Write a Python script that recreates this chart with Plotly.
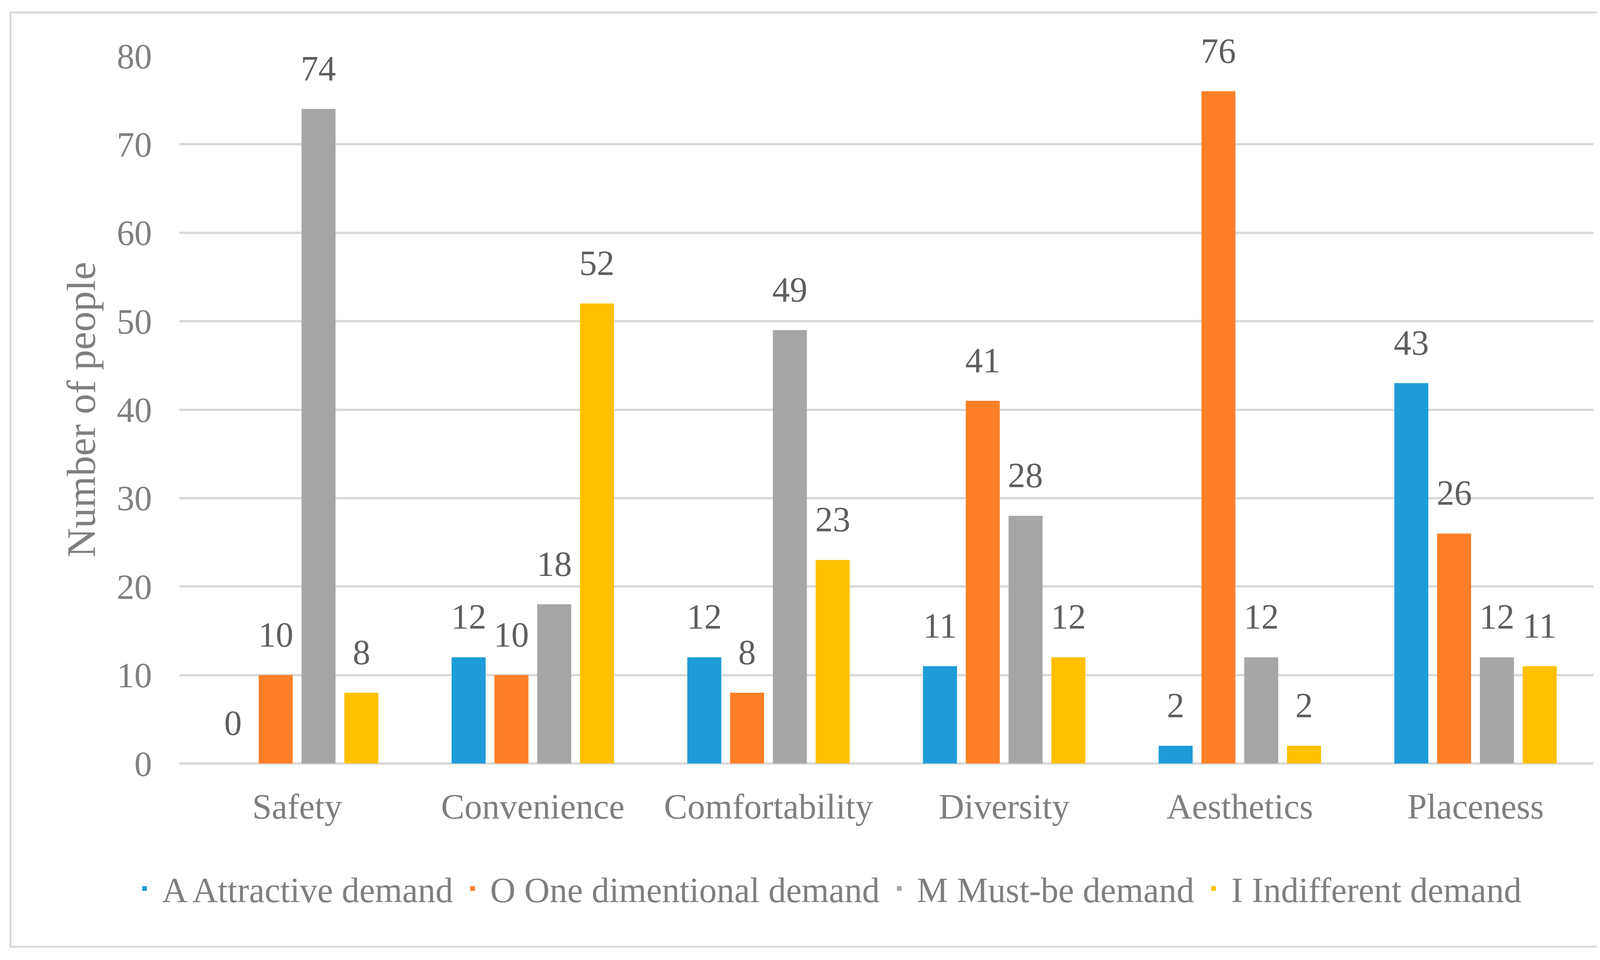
import plotly.graph_objects as go

categories = ["Safety", "Convenience", "Comfortability", "Diversity", "Aesthetics", "Placeness"]
series_names = ["A Attractive demand", "O One dimentional demand", "M Must-be demand", "I Indifferent demand"]
attractive = [0, 12, 12, 11, 2, 43]
one_dimensional = [10, 10, 8, 41, 76, 26]
must_be = [74, 18, 49, 28, 12, 12]
indifferent = [8, 52, 23, 12, 2, 11]
y_ticks = [0, 10, 20, 30, 40, 50, 60, 70, 80]

series_values = [attractive, one_dimensional, must_be, indifferent]
colors = ["#1E9CD8", "#FE7F27", "#A6A6A6", "#FFC000"]

W, H = 4209, 2457
L, R, T, B = 451, 138, 135, 511
plot_w = W - L - R
plot_h = H - T - B
bargap = 0.2736
bargroupgap = 0.2055
FONT = "Liberation Serif, Times New Roman, serif"

fig = go.Figure()
for name, vals, col in zip(series_names, series_values, colors):
    fig.add_trace(go.Bar(x=categories, y=vals, name=name,
                         marker=dict(color=col, line=dict(color=col, width=0))))

# data labels above each bar, aligned to the bar's slot in the group
cat_w = plot_w / len(categories)
pitch = cat_w * (1 - bargap) / len(series_values)
annotations = []
for j, vals in enumerate(series_values):
    for c, v in zip(categories, vals):
        annotations.append(dict(
            x=c, y=v, xref="x", yref="y", text=str(v), showarrow=False,
            xshift=(j - (len(series_values) - 1) / 2) * pitch, yshift=52,
            yanchor="bottom", xanchor="center",
            font=dict(family=FONT, size=90, color="#5E5E5E"),
        ))

def px_to_paper_x(px):
    return (px - L) / plot_w

def px_to_paper_y(py):
    return (H - B - py) / plot_h

fig.update_layout(
    width=W, height=H,
    margin=dict(l=L, r=R, t=T, b=B, autoexpand=False),
    paper_bgcolor="white", plot_bgcolor="white",
    barmode="group", bargap=bargap, bargroupgap=bargroupgap,
    font=dict(family=FONT, size=90, color="#7F7F7F"),
    showlegend=True,
    legend=dict(
        orientation="h", xref="container", yref="container",
        x=0.5, xanchor="center", y=(H - 2266) / H, yanchor="middle",
        font=dict(family=FONT, size=90, color="#7F7F7F"),
        itemwidth=80, itemsizing="constant", traceorder="normal",
        bgcolor="rgba(0,0,0,0)",
    ),
    xaxis=dict(
        type="category", showgrid=False, zeroline=False, showline=False,
        ticks="", ticklabelstandoff=50,
        tickfont=dict(family=FONT, size=90, color="#7F7F7F"),
        automargin=False,
    ),
    yaxis=dict(
        range=[0, 80], tickvals=y_ticks, showgrid=True, gridcolor="#D9D9D9", gridwidth=6,
        zeroline=True, zerolinecolor="#D9D9D9", zerolinewidth=6, showline=False,
        ticks="", ticklabelstandoff=69,
        tickfont=dict(family=FONT, size=90, color="#7F7F7F"),
        title=dict(text="Number of people", font=dict(family=FONT, size=104, color="#7F7F7F"), standoff=20),
        automargin=False,
    ),
    annotations=annotations,
    shapes=[dict(
        type="rect", xref="paper", yref="paper", layer="below",
        x0=px_to_paper_x(19), x1=px_to_paper_x(4181),
        y0=px_to_paper_y(2415), y1=px_to_paper_y(24),
        line=dict(color="#D9D9D9", width=5), fillcolor="rgba(0,0,0,0)",
    )],
)

fig.write_html("out.html")
